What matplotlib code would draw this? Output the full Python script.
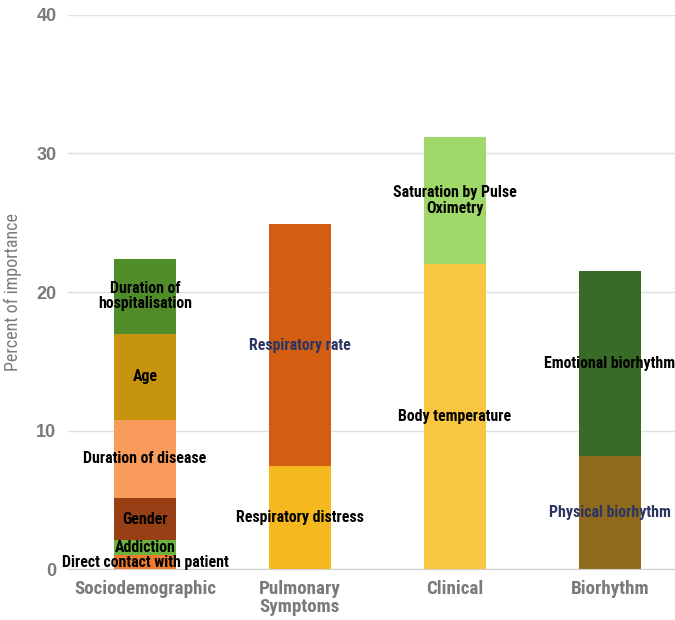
import matplotlib
matplotlib.use("Agg")
import matplotlib.pyplot as plt

categories = ["Sociodemographic", "Pulmonary\nSymptoms", "Clinical", "Biorhythm"]

# stacked segments per category, bottom to top
segments = [
    [("Direct contact with patient", 1.0, "#ef7b2c", "#000000"),
     ("Addiction", 1.1, "#6cb33e", "#000000"),
     ("Gender", 3.0, "#993f16", "#000000"),
     ("Duration of disease", 5.7, "#f99b5b", "#000000"),
     ("Age", 6.2, "#c6940f", "#000000"),
     ("Duration of\nhospitalisation", 5.4, "#518c2b", "#000000")],
    [("Respiratory distress", 7.45, "#f5b91f", "#000000"),
     ("Respiratory rate", 17.45, "#d35e12", "#2b3462")],
    [("Body temperature", 22.0, "#f9c73f", "#000000"),
     ("Saturation by Pulse\nOximetry", 9.2, "#a0d96a", "#000000")],
    [("Physical biorhythm", 8.2, "#8e6b1c", "#2b3462"),
     ("Emotional biorhythm", 13.3, "#3a6a27", "#000000")],
]
yticks = [0, 10, 20, 30, 40]

narrow = ["Roboto Condensed", "Liberation Sans"]

fig = plt.figure(figsize=(6.75, 6.2), dpi=100)
ax = fig.add_axes([0.1, 0.082, 0.9, 0.894])

x = range(len(categories))
for i, segs in zip(x, segments):
    bottom = 0
    for name, val, color, tcolor in segs:
        ax.bar(i, val, bottom=bottom, width=0.4, color=color, zorder=2)
        ax.text(i, bottom + val / 2, name, ha="center", va="center",
                fontsize=11.4, fontweight="bold", color=tcolor,
                family=narrow, zorder=3, linespacing=1.05)
        bottom += val

ax.set_xlim(-0.5, 3.42)
ax.set_ylim(0, 40)
ax.set_yticks(yticks)
ax.set_yticklabels([str(t) for t in yticks], fontsize=13, fontweight="bold",
                   color="#7a7a7a", family="Liberation Sans")
ax.set_xticks(list(x))
ax.set_xticklabels(categories, fontsize=13.7, fontweight="bold",
                   color="#7a7a7a", family=narrow, linespacing=1.0)
ax.set_ylabel("Percent of importance", fontsize=13, color="#7a7a7a",
              family=narrow)
ax.yaxis.set_label_coords(-0.075, 0.5)
ax.grid(axis="y", color="#e0e0e0", linewidth=1, zorder=0)
ax.tick_params(length=0, pad=8)
for side in ["top", "right", "left"]:
    ax.spines[side].set_visible(False)
ax.spines["bottom"].set_color("#d0d0d0")

fig.savefig("out.png", dpi=100)
